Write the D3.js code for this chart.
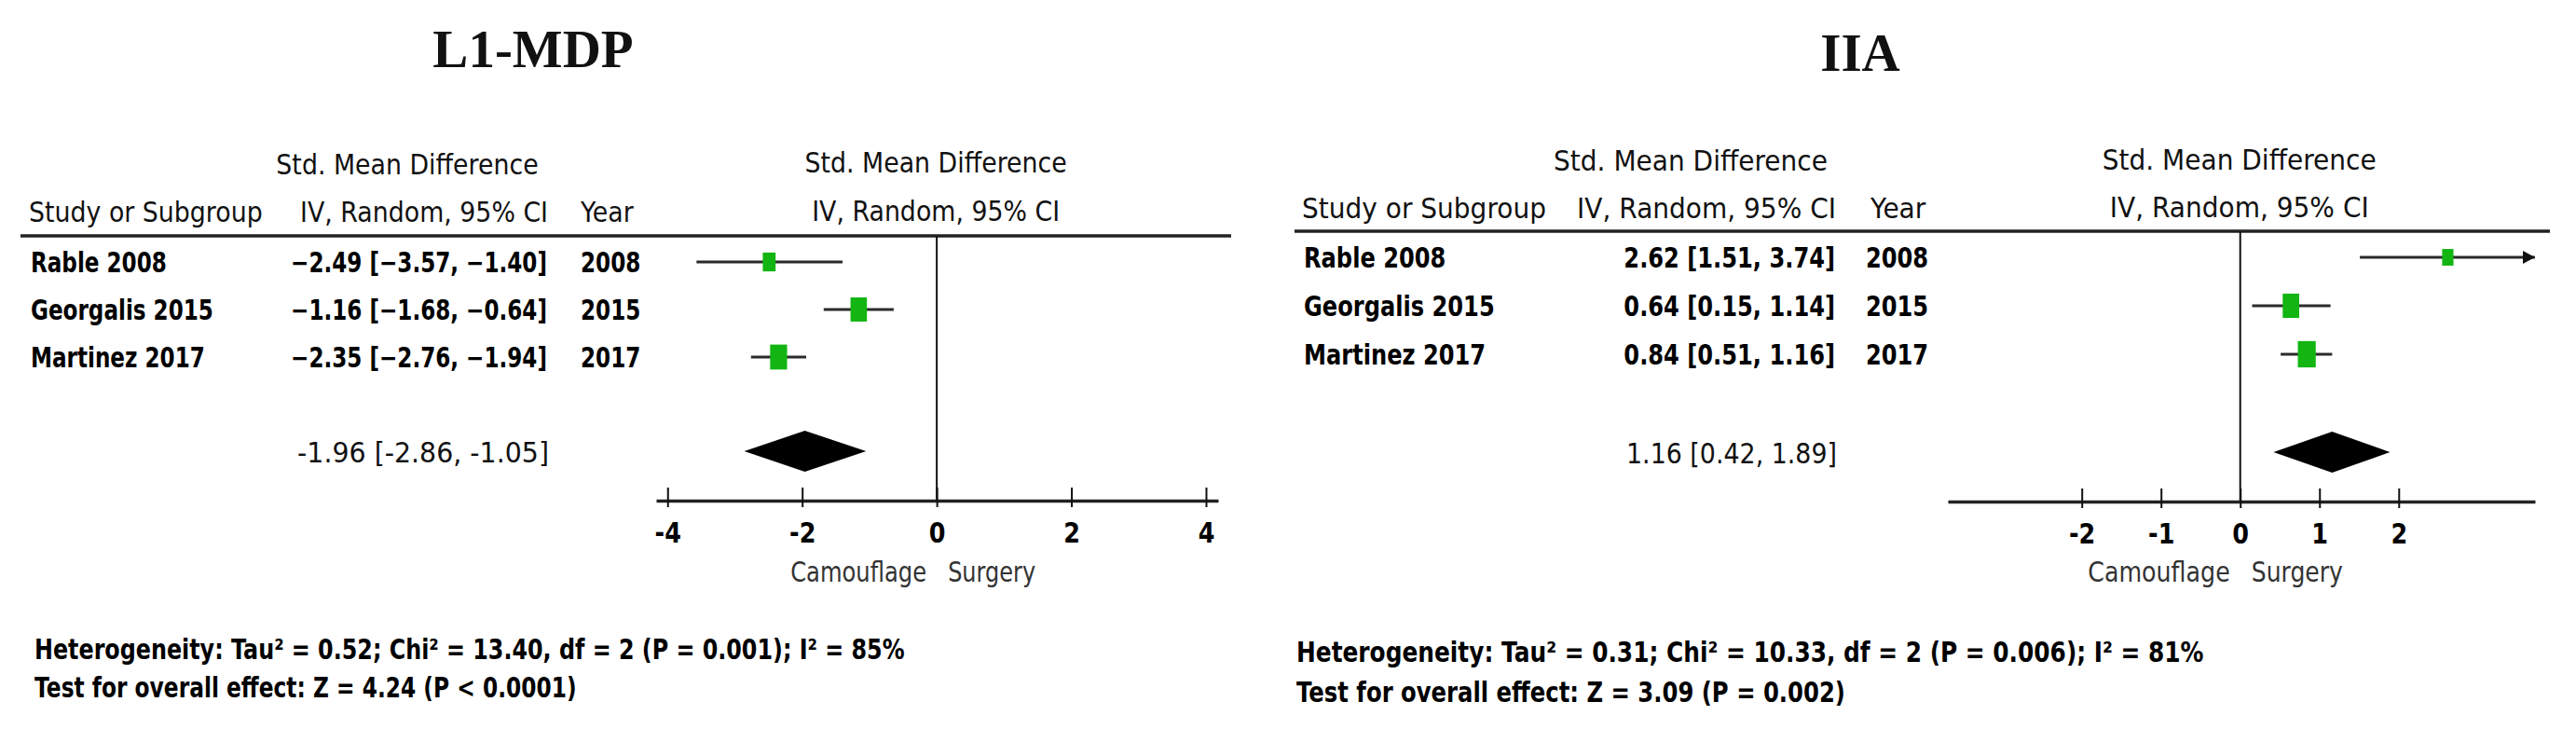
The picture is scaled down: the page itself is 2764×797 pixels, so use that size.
<!DOCTYPE html>
<html><head><meta charset="utf-8">
<script src="https://cdn.jsdelivr.net/npm/d3@7"></script>
<style>body{margin:0;background:#fff}svg{display:block}</style>
</head><body>
<svg id="chart" width="2764" height="797"></svg>
<script>
// ---------------- data ----------------
const studies = ["Rable 2008", "Georgalis 2015", "Martinez 2017"];
const years = ["2008", "2015", "2017"];

const l1Title = "L1-MDP";
const l1Est = [-2.49, -1.16, -2.35];
const l1Lower = [-3.57, -1.68, -2.76];
const l1Upper = [-1.40, -0.64, -1.94];
const l1Weight = [25.9, 36.3, 37.9];
const l1Pooled = [-1.96, -2.86, -1.05];
const l1Domain = [-4.17, 4.18];
const l1Ticks = [-4, -2, 0, 2, 4];
const l1Het = "Heterogeneity: Tau² = 0.52; Chi² = 13.40, df = 2 (P = 0.001); I² = 85%";
const l1Test = "Test for overall effect: Z = 4.24 (P < 0.0001)";

const iiaTitle = "IIA";
const iiaEst = [2.62, 0.64, 0.84];
const iiaLower = [1.51, 0.15, 0.51];
const iiaUpper = [3.74, 1.14, 1.16];
const iiaWeight = [21.6, 36.6, 40.6];
const iiaPooled = [1.16, 0.42, 1.89];
const iiaDomain = [-3.69, 3.72];
const iiaTicks = [-2, -1, 0, 1, 2];
const iiaHet = "Heterogeneity: Tau² = 0.31; Chi² = 10.33, df = 2 (P = 0.006); I² = 81%";
const iiaTest = "Test for overall effect: Z = 3.09 (P = 0.002)";

const hdrEffect = "Std. Mean Difference";
const hdrStudy = "Study or Subgroup";
const hdrMethod = "IV, Random, 95% CI";
const hdrYear = "Year";
const favLeft = "Camouflage";
const favRight = "Surgery";

// ---------------- drawing ----------------
const svg = d3.select("#chart");
const SANS = "'DejaVu Sans', Verdana, sans-serif";
const SERIF = "'Liberation Serif', 'Times New Roman', serif";
const fmt = d3.format(".2f");

const sizeScale = d3.scaleLinear().domain([20, 42]).range([17, 29]);

function panel(d, o) {
  const g = svg.append("g");
  const s = o.scale;
  const x = d3.scaleLinear().domain(d.domain).range(o.xRange);
  const y = d3.scalePoint().domain(studies).range(o.yRows);

  // text drawn at origin and squeezed horizontally with a transform
  const txt = (xx, yy, str, anchor, size, weight, fill, k, w) => {
    const t = g.append("text").attr("x", 0).attr("y", 0).attr("text-anchor", anchor)
      .style("font-family", SANS).style("font-size", size + "px")
      .style("font-weight", weight).attr("fill", fill).text(str);
    let kk = k;
    if (w) kk = w / t.node().getComputedTextLength();
    t.attr("transform", `translate(${xx},${yy}) scale(${kk},1)`);
    return t;
  };

  // title
  g.append("text").attr("x", o.titleX).attr("y", o.titleY).attr("text-anchor", "middle")
    .style("font-family", SERIF).style("font-weight", "bold").style("font-size", "57px")
    .attr("fill", "#111").text(d.title);

  // headers
  const kH = 0.865 * s;
  txt(o.effX, o.hdrY1, hdrEffect, "middle", 31, "normal", "#111", kH);
  txt(o.studyX, o.hdrY2, hdrStudy, "start", 31, "normal", "#111", kH);
  txt(o.ciRight + 1, o.hdrY2, hdrMethod, "end", 31, "normal", "#111", kH);
  txt(o.yearX, o.hdrY2, hdrYear, "start", 31, "normal", "#111", kH);
  txt(x(0) - 1, o.plotHdrY1, hdrEffect, "middle", 31, "normal", "#111", kH);
  txt(x(0) - 1, o.plotHdrY2, hdrMethod, "middle", 31, "normal", "#111", kH);

  // header rule
  g.append("line").attr("x1", o.lineX[0]).attr("x2", o.lineX[1])
    .attr("y1", o.lineY).attr("y2", o.lineY).attr("stroke", "#222").attr("stroke-width", 3.5);

  // zero line
  g.append("line").attr("x1", x(0)).attr("x2", x(0))
    .attr("y1", o.lineY).attr("y2", o.axisY).attr("stroke", "#111").attr("stroke-width", 2);

  // study rows
  const kR = 0.77 * s;
  studies.forEach((st, i) => {
    const yy = y(st);
    txt(o.studyX + 2, yy + 11, st, "start", 30, "bold", "#000", kR);
    const ciStr = `${fmt(d.est[i])} [${fmt(d.lo[i])}, ${fmt(d.hi[i])}]`;
    txt(o.ciRight, yy + 11, ciStr, "end", 30, "bold", "#000", kR);
    txt(o.rowYearX, yy + 11, years[i], "start", 30, "bold", "#000", kR);

    const lo = Math.max(d.lo[i], d.domain[0]);
    const hi = Math.min(d.hi[i], d.domain[1]);
    g.append("line").attr("x1", x(lo)).attr("x2", x(hi)).attr("y1", yy).attr("y2", yy)
      .attr("stroke", "#2a2a2a").attr("stroke-width", 3);
    if (d.hi[i] > d.domain[1]) {
      const xe = x(d.domain[1]);
      g.append("path").attr("d", `M${xe},${yy} L${xe - 13},${yy - 7} L${xe - 13},${yy + 7} Z`)
        .attr("fill", "#111");
    }
    const h = sizeScale(d.weight[i]);
    const w = h * 0.68;
    g.append("rect").attr("x", x(d.est[i]) - w / 2).attr("y", yy - h / 2)
      .attr("width", w).attr("height", h).attr("fill", "#12b512");
  });

  // pooled
  const [pe, pl, ph] = d.pooled;
  const cy = o.sumY;
  g.append("path")
    .attr("d", `M${x(pl)},${cy} L${x(pe)},${cy - 22} L${x(ph)},${cy} L${x(pe)},${cy + 22} Z`)
    .attr("fill", "#000");
  const pStr = `${fmt(pe)} [${fmt(pl)}, ${fmt(ph)}]`.replace(/−/g, "-");
  txt(o.ciRight + 2, cy + 12, pStr, "end", 31, "normal", "#111", null, o.sumW);

  // axis
  const axis = d3.axisBottom(x).tickValues(d.ticks).tickSizeOuter(0)
    .tickFormat(v => d3.format("d")(v).replace("−", "-"));
  const ag = g.append("g").attr("transform", `translate(0,${o.axisY})`).call(axis);
  ag.select(".domain").attr("stroke", "#222").attr("stroke-width", 3.5);
  ag.selectAll(".tick line").attr("y1", 7).attr("y2", -14).attr("stroke", "#111").attr("stroke-width", 2);
  ag.selectAll(".tick text").attr("y", 45).attr("dy", null).attr("transform", "scale(0.85,1)")
    .style("font-family", SANS).style("font-size", "30px").style("font-weight", "bold").attr("fill", "#000");

  // favours labels
  txt(x(0) - 11, o.favY, favLeft, "end", 30, "normal", "#333", null, 146 * s);
  txt(x(0) + 12, o.favY, favRight, "start", 30, "normal", "#333", null, 94 * s);

  // footnotes
  txt(o.footX, o.footY1, d.het, "start", 30, "bold", "#000", null, o.footW1);
  txt(o.footX, o.footY2, d.test, "start", 30, "bold", "#000", null, o.footW2);
}

panel(
  { title: l1Title, est: l1Est, lo: l1Lower, hi: l1Upper, weight: l1Weight, pooled: l1Pooled,
    domain: l1Domain, ticks: l1Ticks, het: l1Het, test: l1Test },
  { scale: 1, titleX: 572, titleY: 72, effX: 437, hdrY1: 187, hdrY2: 238, studyX: 31,
    ciRight: 587, yearX: 623, rowYearX: 623, plotHdrY1: 185, plotHdrY2: 237,
    lineX: [22, 1321], lineY: 253, yRows: [281, 383], xRange: [704, 1307], axisY: 537,
    sumY: 484, sumW: 270, favY: 624, footX: 37, footY1: 707, footY2: 748, footW1: 934, footW2: 582 }
);

panel(
  { title: iiaTitle, est: iiaEst, lo: iiaLower, hi: iiaUpper, weight: iiaWeight, pooled: iiaPooled,
    domain: iiaDomain, ticks: iiaTicks, het: iiaHet, test: iiaTest },
  { scale: 1.045, titleX: 1996, titleY: 76, effX: 1814, hdrY1: 183, hdrY2: 234, studyX: 1397,
    ciRight: 1969, yearX: 2007, rowYearX: 2002, plotHdrY1: 182, plotHdrY2: 233,
    lineX: [1389, 2736], lineY: 248, yRows: [276, 380], xRange: [2090, 2720], axisY: 538,
    sumY: 485, sumW: 226, favY: 624, footX: 1391, footY1: 710, footY2: 753, footW1: 974, footW2: 589 }
);
</script>
</body></html>
